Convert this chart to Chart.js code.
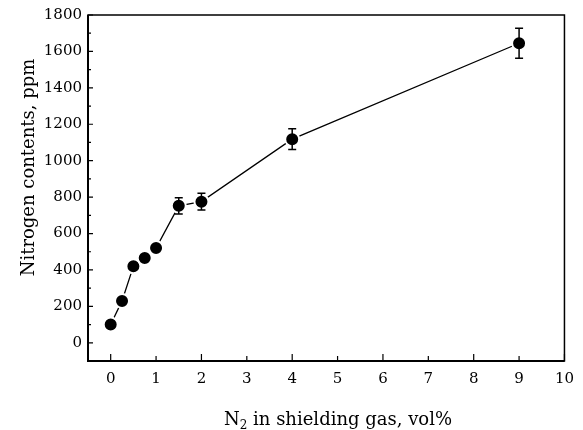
<!DOCTYPE html>
<html>
<head>
<meta charset="utf-8">
<script src="https://cdn.jsdelivr.net/npm/chart.js@4/dist/chart.umd.min.js"></script>
<style>
  body { margin: 0; background: #fff; }
  #wrap { width: 583px; height: 430px; }
</style>
</head>
<body>
<div id="wrap"><canvas id="chart" width="583" height="430"></canvas></div>
<script>
// N2 content in shielding gas (vol%) vs nitrogen content (ppm)
const n2Percent = [0, 0.25, 0.5, 0.75, 1, 1.5, 2, 4, 9];
const nitrogenPpm = [100, 230, 420, 465, 520, 752, 775, 1118, 1645];
const errorPpm = [0, 0, 0, 0, 0, 45, 46, 57, 82];

const xTicks = [0, 1, 2, 3, 4, 5, 6, 7, 8, 9, 10];
const yTicks = [0, 200, 400, 600, 800, 1000, 1200, 1400, 1600, 1800];
const yMinorTicks = [100, 300, 500, 700, 900, 1100, 1300, 1500, 1700];

const xTitle = ['N', '2', ' in shielding gas, vol%'];
const yTitle = 'Nitrogen contents, ppm';

const serif = "'DejaVu Serif', serif";

// frame, inward ticks, error bars and axis titles
const decorations = {
  id: 'decorations',
  afterDatasetsDraw(chart) {
    const { ctx, chartArea: a, scales } = chart;
    const x = scales.x, y = scales.y;
    ctx.save();
    ctx.strokeStyle = '#000';

    // error bars
    ctx.lineWidth = 1.5;
    n2Percent.forEach((v, i) => {
      if (!errorPpm[i]) return;
      const px = x.getPixelForValue(v);
      const top = y.getPixelForValue(nitrogenPpm[i] + errorPpm[i]);
      const bot = y.getPixelForValue(nitrogenPpm[i] - errorPpm[i]);
      ctx.beginPath();
      ctx.moveTo(px, top); ctx.lineTo(px, bot);
      ctx.moveTo(px - 4, top); ctx.lineTo(px + 4, top);
      ctx.moveTo(px - 4, bot); ctx.lineTo(px + 4, bot);
      ctx.stroke();
    });

    // frame
    ctx.lineWidth = 1.5;
    ctx.strokeRect(a.left, a.top, a.right - a.left, a.bottom - a.top);
    ctx.lineWidth = 2;
    ctx.beginPath();
    ctx.moveTo(a.left, a.top); ctx.lineTo(a.left, a.bottom); ctx.lineTo(a.right, a.bottom);
    ctx.stroke();

    // ticks pointing inward
    ctx.lineWidth = 1.2;
    ctx.beginPath();
    xTicks.forEach(v => {
      const px = x.getPixelForValue(v);
      const len = v % 2 === 0 ? 7 : 5;
      ctx.moveTo(px, a.bottom); ctx.lineTo(px, a.bottom - len);
    });
    yTicks.forEach(v => {
      const py = y.getPixelForValue(v);
      ctx.moveTo(a.left, py); ctx.lineTo(a.left + 5, py);
    });
    yMinorTicks.forEach(v => {
      const py = y.getPixelForValue(v);
      ctx.moveTo(a.left, py); ctx.lineTo(a.left + 3, py);
    });
    ctx.stroke();

    // axis titles
    ctx.fillStyle = '#000';
    ctx.font = '18px ' + serif;
    ctx.textBaseline = 'alphabetic';
    ctx.textAlign = 'left';
    const w0 = ctx.measureText(xTitle[0]).width;
    ctx.font = '12px ' + serif;
    const w1 = ctx.measureText(xTitle[1]).width;
    ctx.font = '18px ' + serif;
    const w2 = ctx.measureText(xTitle[2]).width;
    let tx = 338 - (w0 + w1 + w2) / 2;
    const ty = 425;
    ctx.fillText(xTitle[0], tx, ty);
    ctx.font = '12px ' + serif;
    ctx.fillText(xTitle[1], tx + w0, ty + 4);
    ctx.font = '18px ' + serif;
    ctx.fillText(xTitle[2], tx + w0 + w1, ty);

    ctx.translate(34, 167.5);
    ctx.rotate(-Math.PI / 2);
    ctx.textAlign = 'center';
    ctx.fillText(yTitle, 0, 0);
    ctx.restore();
  }
};

new Chart(document.getElementById('chart'), {
  type: 'line',
  data: {
    datasets: [{
      data: n2Percent.map((v, i) => ({ x: v, y: nitrogenPpm[i] })),
      borderColor: '#000',
      borderWidth: 1.3,
      tension: 0,
      pointRadius: 7,
      pointBackgroundColor: '#000',
      pointBorderColor: '#fff',
      pointBorderWidth: 2,
      fill: false
    }]
  },
  options: {
    responsive: false,
    animation: false,
    layout: { padding: { left: 0, right: 18, top: 15, bottom: 0 } },
    plugins: { legend: { display: false }, tooltip: { enabled: false } },
    scales: {
      x: {
        type: 'linear',
        min: -0.5,
        max: 10,
        afterBuildTicks: s => { s.ticks = xTicks.map(v => ({ value: v })); },
        afterFit: s => { s.height = 69; },
        grid: { display: false, drawTicks: false },
        border: { display: false },
        ticks: { color: '#000', padding: 9, maxRotation: 0, callback: v => String(v), font: { family: serif, size: 15 } }
      },
      y: {
        type: 'linear',
        min: -100,
        max: 1800,
        afterBuildTicks: s => { s.ticks = yTicks.map(v => ({ value: v })); },
        afterFit: s => { s.width = 88; },
        grid: { display: false, drawTicks: false },
        border: { display: false },
        ticks: { color: '#000', padding: 6, callback: v => String(v), font: { family: serif, size: 15 } }
      }
    }
  },
  plugins: [decorations]
});
</script>
</body>
</html>
